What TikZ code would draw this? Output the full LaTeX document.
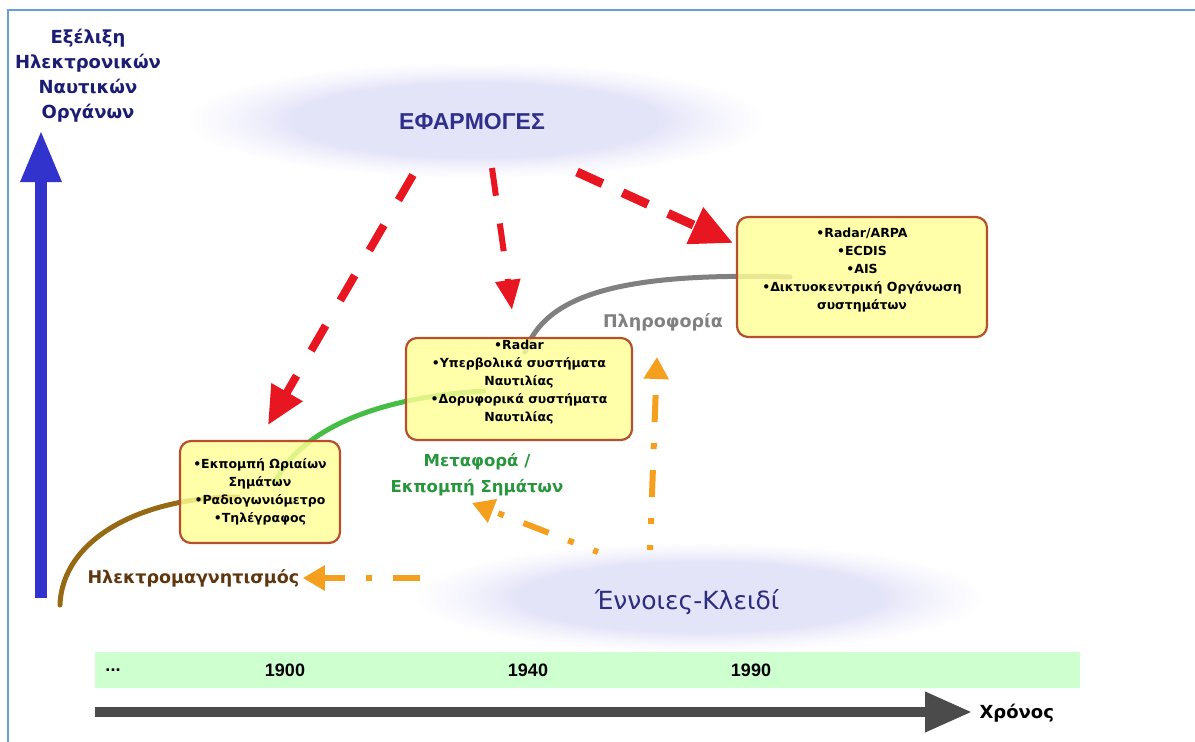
\documentclass[tikz,border=0pt]{standalone}
\usepackage{fontspec}
\setmainfont{DejaVu Sans}
\newfontfamily\arialfam{Liberation Sans}
\usetikzlibrary{arrows.meta}

\definecolor{framec}{RGB}{100,160,215}
\definecolor{titlec}{RGB}{28,28,115}
\definecolor{appc}{RGB}{48,48,140}
\definecolor{keyc}{RGB}{44,44,128}
\definecolor{axisblue}{RGB}{50,50,205}
\definecolor{axisgray}{RGB}{75,75,75}
\definecolor{bandc}{RGB}{206,255,206}
\definecolor{boxfill}{RGB}{255,255,150}
\definecolor{boxline}{RGB}{180,80,45}
\definecolor{redc}{RGB}{232,22,32}
\definecolor{orangec}{RGB}{244,160,30}
\definecolor{brownc}{RGB}{150,105,20}
\definecolor{brownlab}{RGB}{95,55,15}
\definecolor{greenc}{RGB}{70,190,70}
\definecolor{greenlab}{RGB}{40,150,60}
\definecolor{grayc}{RGB}{128,128,128}
\definecolor{hazecore}{RGB}{228,228,248}
\definecolor{hazemid}{RGB}{242,242,252}

% soft oval behind the two headings
\pgfdeclareradialshading{haze}{\pgfpoint{0bp}{0bp}}{%
  color(0bp)=(hazecore);color(16bp)=(hazecore);color(20bp)=(hazemid);%
  color(25bp)=(white);color(50bp)=(white)}

\begin{document}
\begin{tikzpicture}[x=1pt,y=-1pt,
  stepbox/.style={draw=boxline, line width=2.2pt, fill=boxfill, fill opacity=0.82,
    rounded corners=11pt, inner sep=0pt},
  boxtext/.style={font=\bfseries\fontsize{12.5}{18}\selectfont, align=center,
    text=black, inner sep=0pt},
  reddash/.style={draw=redc},
  keyarrow/.style={draw=orangec, line width=6pt,
    dash pattern=on 27pt off 21pt on 6pt off 21pt, dash phase=22pt,
    -{Triangle[length=22pt,width=24pt]}},
  trend/.style={line width=5pt, line cap=round},
  year/.style={font=\arialfam\bfseries\fontsize{18}{20}\selectfont, text=black},
  trendlabel/.style={font=\bfseries\fontsize{17.5}{26}\selectfont, align=center},
]
\useasboundingbox (0,0) rectangle (1195,742);

% frame
\draw[framec, line width=1.5pt] (8,742) -- (8,10) -- (1195,10);

% soft ovals and headings
\shade[shading=haze] (476,120) ellipse [x radius=290pt, y radius=58pt];
\shade[shading=haze] (700,597) ellipse [x radius=285pt, y radius=55pt];
\node[font=\arialfam\bfseries\fontsize{23}{26}\selectfont, text=appc] (app) at (472,122) {ΕΦΑΡΜΟΓΕΣ};
\node[font=\fontsize{25}{28}\selectfont, text=keyc] (key) at (687,602) {Έννοιες-Κλειδί};

% vertical axis
\node[font=\bfseries\fontsize{18}{25}\selectfont, text=titlec, align=center] (title) at (88,76)
  {Εξέλιξη\\Ηλεκτρονικών\\Ναυτικών\\Οργάνων};
\coordinate (vbot) at (41,598);
\coordinate (vtop) at (41,130);
\draw[axisblue, line width=12pt, -{Triangle[length=52pt,width=38pt]}] (vbot) -- (vtop);

% time band and time axis
\node[fill=bandc, minimum width=985pt, minimum height=36pt, inner sep=0pt] (band) at (587.5,670) {};
\node[year] (y0) at (113,670) {...};
\node[year] (y1) at (285,670) {1900};
\node[year] (y2) at (528,670) {1940};
\node[year] (y3) at (751,670) {1990};
\coordinate (tstart) at (95,712);
\coordinate (tend) at (972,712);
\draw[axisgray, line width=10pt, -{Triangle[length=47pt,width=38pt]}] (tstart) -- (tend);
\node[font=\bfseries\fontsize{18}{20}\selectfont, anchor=west, text=black] (time) at (976,713) {Χρόνος};

% trend line through the three eras
\draw[trend, brownc] (60,605) .. controls (62,540) and (140,497) .. (238,497);
\draw[trend, greenc] (275,482) .. controls (300,432) and (370,398) .. (484,391);
\draw[trend, grayc] (525,352) .. controls (545,295) and (620,272) .. (790,277);

% era boxes
\node[stepbox, minimum width=160pt, minimum height=102pt] (b1) at (260,492) {};
\node[boxtext] (t1) at (b1.center)
  {•Εκπομπή Ωριαίων\\Σημάτων\\•Ραδιογωνιόμετρο\\•Τηλέγραφος};
\node[stepbox, minimum width=226pt, minimum height=102pt] (b2) at (519,389) {};
\node[boxtext] (t2) at (519,382)
  {•Radar\\•Υπερβολικά συστήματα\\Ναυτιλίας\\•Δορυφορικά συστήματα\\Ναυτιλίας};
\node[stepbox, minimum width=250pt, minimum height=120pt] (b3) at (862,277) {};
\node[boxtext] (t3) at (862,270)
  {•Radar/ARPA\\•ECDIS\\•AIS\\•Δικτυοκεντρική Οργάνωση\\συστημάτων};

% trend labels
\node[trendlabel, text=brownlab, anchor=west] (em) at (84,578) {Ηλεκτρομαγνητισμός};
\node[trendlabel, font=\bfseries\fontsize{16.5}{26}\selectfont, text=greenlab] (trans) at (477,475)
  {Μεταφορά /\\Εκπομπή Σημάτων};
\node[trendlabel, text=grayc] (info) at (663,322) {Πληροφορία};

% applications to eras
\coordinate (a1) at (413,175);
\coordinate (a1t) at (268,425);
\coordinate (a2) at (492,168);
\coordinate (a2t) at (512,310);
\coordinate (a3) at (577,172);
\coordinate (a3t) at (733,243);
\draw[reddash, line width=8pt, dash pattern=on 29pt off 29pt,
  -{Triangle[length=38pt,width=34pt]}] (a1) -- (a1t);
\draw[reddash, line width=6pt, dash pattern=on 28pt off 28pt,
  -{Triangle[length=30pt,width=24pt]}] (a2) -- (a2t);
\draw[reddash, line width=9pt, dash pattern=on 28pt off 22pt,
  -{Triangle[length=42pt,width=38pt]}] (a3) -- (a3t);

% key concepts to the trend labels
\coordinate (k1) at (420,578);
\coordinate (k2) at (598,552);
\coordinate (k2t) at (472,503);
\coordinate (k3) at (650,550);
\coordinate (k3t) at (657,357);
\draw[keyarrow, dash phase=0pt] (k1) -- (em);
\draw[keyarrow] (k2) -- (k2t);
\draw[keyarrow] (k3) -- (k3t);
\end{tikzpicture}
\end{document}
